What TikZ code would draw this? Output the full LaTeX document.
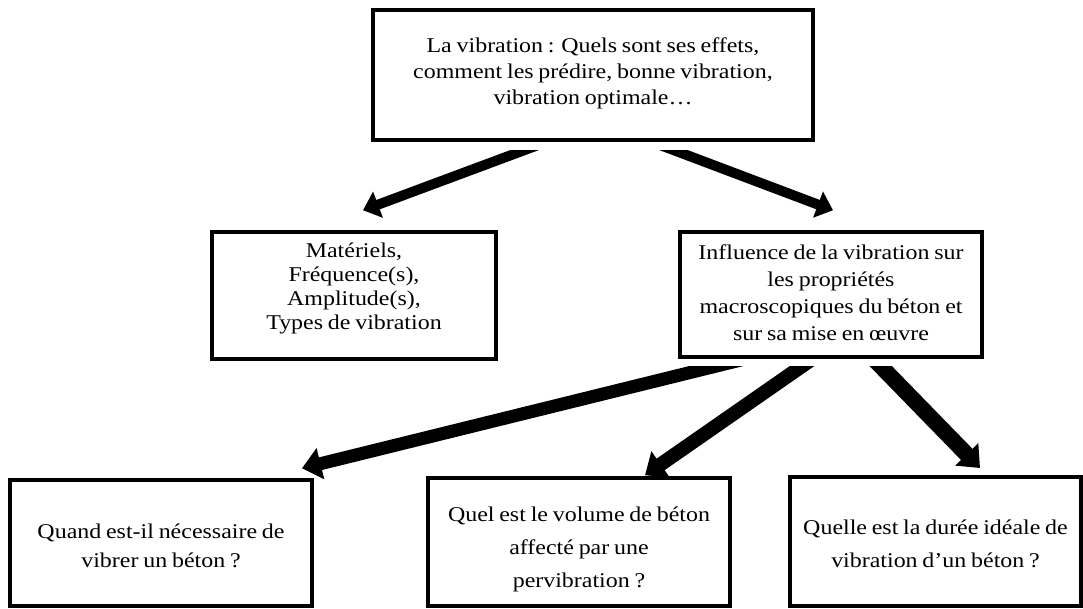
\documentclass[tikz,border=0pt]{standalone}
\usepackage{fontspec}
\setmainfont{Liberation Serif}[FakeStretch=1.14,WordSpace=0.8]
\usetikzlibrary{arrows.meta,calc}
\begin{document}
\begin{tikzpicture}[x=1pt,y=-1pt,
  box/.style={draw,line width=3.5pt,inner sep=0pt},
  txt/.style={align=center,inner sep=0pt},
  toparrow/.style={line width=10pt,-{Triangle[length=16pt,width=27pt]}},
  lowarrow/.style={line width=#1,-{Triangle[length=19pt,width=31pt]}}]
\fill[white] (0,0) rectangle (1083,608);
\useasboundingbox (0,0) rectangle (1083,608);

% boxes
\node[box,minimum width=440pt,minimum height=130pt] (top) at (593,75) {};
\node[box,minimum width=284pt,minimum height=127pt] (mat) at (354,295.5) {};
\node[box,minimum width=302pt,minimum height=125pt] (inf) at (831,294.5) {};
\node[box,minimum width=302pt,minimum height=126pt] (bl) at (161,543) {};
\node[box,minimum width=302pt,minimum height=128pt] (bm) at (579,542) {};
\node[box,line width=4pt,minimum width=291pt,minimum height=129pt] (br) at (935.5,541.5) {};

% texts
\node[txt,font=\fontsize{21}{26}\selectfont] (toptext) at ($(top.center)+(0,-2)$)
  {La vibration : Quels sont ses effets,\\comment les prédire, bonne vibration,\\vibration optimale…};
\node[txt,font=\fontsize{21}{24}\selectfont] (mattext) at ($(mat.center)+(0,-7)$)
  {Matériels,\\Fréquence(s),\\Amplitude(s),\\Types de vibration};
\node[txt,font=\fontsize{21}{27}\selectfont] (inftext) at ($(inf.center)+(0,-2)$)
  {Influence de la vibration sur\\les propriétés\\macroscopiques du béton et\\sur sa mise en œuvre};
\node[txt,font=\fontsize{21}{29}\selectfont] (bltext) at ($(bl.center)+(0,2.5)$)
  {Quand est-il nécessaire de\\vibrer un béton ?};
\node[txt,font=\fontsize{21}{33}\selectfont] (bmtext) at ($(bm.center)+(0,7)$)
  {Quel est le volume de béton\\affecté par une\\pervibration ?};
\node[txt,font=\fontsize{21}{33}\selectfont] (brtext) at ($(br.center)+(0,2)$)
  {Quelle est la durée idéale de\\vibration d’un béton ?};

% arrow ends
\coordinate (t1) at ($(top.south)+(-56,3.7)$);
\coordinate (t2) at ($(top.south)+(68,3.6)$);
\coordinate (m1) at ($(mat.north)+(9,-20)$);
\coordinate (i1) at ($(inf.north)+(2,-20)$);
\coordinate (s1) at ($(inf.south)+(-77,-2)$);
\coordinate (s2) at ($(inf.south)+(-17,-1)$);
\coordinate (s3) at ($(inf.south)+(41.6,-1)$);
\coordinate (b1) at ($(bl.north)+(141,-10)$);
\coordinate (b2) at ($(bm.north)+(66,-1)$);
\coordinate (b3) at ($(br.north)+(44.5,-7)$);

\begin{scope}
  \clip (0,150) rectangle (1083,608);
  \draw[toparrow] (t1) -- (m1);
  \draw[toparrow] (t2) -- (i1);
\end{scope}
\begin{scope}
  \clip (0,366) rectangle (1083,608);
  \draw[lowarrow=13pt] (s1) -- (b1);
  \draw[lowarrow=14pt] (s2) -- (b2);
  \draw[lowarrow=16pt] (s3) -- (b3);
\end{scope}
\end{tikzpicture}
\end{document}
